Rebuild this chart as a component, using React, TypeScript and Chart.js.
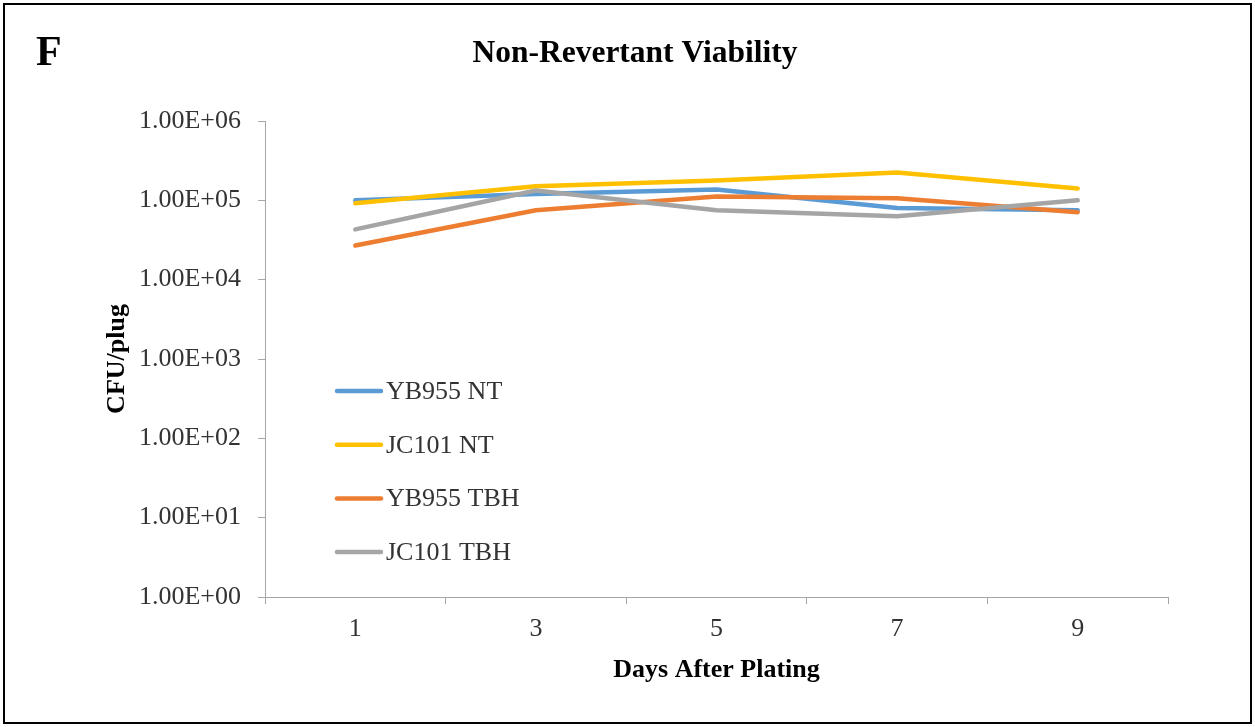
import React, { useEffect, useRef } from "react";
import { Chart, registerables } from "chart.js";

Chart.register(...registerables);

// ---- data ----
const days = ["1", "3", "5", "7", "9"];
const seriesNames = ["YB955 NT", "JC101 NT", "YB955 TBH", "JC101 TBH"];
const yb955NT = [1.0e5, 1.2e5, 1.37e5, 0.8e5, 0.75e5];
const jc101NT = [0.92e5, 1.5e5, 1.78e5, 2.25e5, 1.41e5];
const yb955TBH = [2.7e4, 0.75e5, 1.12e5, 1.06e5, 0.71e5];
const jc101TBH = [4.3e4, 1.33e5, 0.75e5, 0.63e5, 1.0e5];
const yTickValues = [1, 10, 100, 1000, 10000, 100000, 1000000];
const yTickLabels = ["1.00E+00", "1.00E+01", "1.00E+02", "1.00E+03", "1.00E+04", "1.00E+05", "1.00E+06"];
const seriesColors = ["#5B9BD5", "#FFC000", "#ED7D31", "#A5A5A5"];

const SERIF = '"Liberation Serif", "Times New Roman", serif';

const decorPlugin = {
  id: "decor",
  afterDraw(chart: any) {
    const ctx = chart.ctx as CanvasRenderingContext2D;
    ctx.save();
    ctx.strokeStyle = "#000";
    ctx.lineWidth = 2;
    ctx.strokeRect(4, 4, 1247, 719);
    ctx.fillStyle = "#000";
    ctx.font = `bold 42px ${SERIF}`;
    ctx.textAlign = "left";
    ctx.textBaseline = "alphabetic";
    ctx.fillText("F", 36, 65);
    chart.data.datasets.forEach((ds: any, i: number) => {
      const y = 391 + i * 53.7;
      ctx.strokeStyle = ds.borderColor;
      ctx.lineWidth = 4.5;
      ctx.lineCap = "round";
      ctx.beginPath();
      ctx.moveTo(337, y);
      ctx.lineTo(381, y);
      ctx.stroke();
      ctx.fillStyle = "#333";
      ctx.font = `26px ${SERIF}`;
      ctx.textBaseline = "middle";
      ctx.fillText(ds.label, 386, y + 1);
    });
    ctx.restore();
  },
};

export default function App() {
  const ref = useRef<HTMLCanvasElement>(null);
  useEffect(() => {
    const series = [yb955NT, jc101NT, yb955TBH, jc101TBH];
    const chart = new Chart(ref.current!, {
      type: "line",
      data: {
        labels: days,
        datasets: series.map((d, i) => ({
          label: seriesNames[i],
          data: d,
          borderColor: seriesColors[i],
          backgroundColor: seriesColors[i],
          borderWidth: 4.5,
          pointRadius: 0,
          tension: 0,
          borderJoinStyle: "round" as const,
          borderCapStyle: "round" as const,
          order: 3 - i,
        })),
      },
      options: {
        responsive: false,
        animation: false,
        layout: { padding: { left: 102, right: 87, top: 0, bottom: 0 } },
        plugins: {
          legend: { display: false },
          tooltip: { enabled: false },
          title: {
            display: true,
            text: "Non-Revertant Viability",
            color: "#000",
            font: { family: SERIF, size: 31.5, weight: "bold", lineHeight: 1.2 },
            padding: { top: 35, bottom: 48.2 },
          },
        },
        scales: {
          x: {
            type: "category",
            offset: true,
            grid: { offset: true, drawOnChartArea: false, drawTicks: true, tickLength: 7, color: "#a6a6a6" },
            border: { color: "#a6a6a6", width: 1 },
            ticks: { color: "#333", padding: 10, font: { family: SERIF, size: 26 } },
            title: {
              display: true,
              text: "Days After Plating",
              color: "#000",
              font: { family: SERIF, size: 26, weight: "bold", lineHeight: 1.2 },
              padding: { top: 0, bottom: 41 },
            },
            afterFit(scale: any) {
              scale.height = 130;
            },
          },
          y: {
            type: "logarithmic",
            min: 1,
            max: 1000000,
            grid: { drawOnChartArea: false, drawTicks: true, tickLength: 7, color: "#a6a6a6" },
            border: { color: "#a6a6a6", width: 1 },
            afterBuildTicks(scale: any) {
              scale.ticks = yTickValues.map((v) => ({ value: v }));
            },
            ticks: {
              color: "#333",
              padding: 17,
              font: { family: SERIF, size: 26 },
              callback: (_v: any, i: number) => yTickLabels[i],
            },
            title: {
              display: true,
              text: "CFU/plug",
              color: "#000",
              font: { family: SERIF, size: 26, weight: "bold", lineHeight: 1.2 },
              padding: { top: 0, bottom: 0 },
            },
            afterFit(scale: any) {
              scale.width = 163;
            },
          },
        },
      },
      plugins: [decorPlugin],
    });
    return () => chart.destroy();
  }, []);
  return (
    <div style={{ position: "fixed", left: 0, top: 0, width: 1255, height: 727, background: "#fff" }}>
      <canvas ref={ref} width={1255} height={727} />
    </div>
  );
}
